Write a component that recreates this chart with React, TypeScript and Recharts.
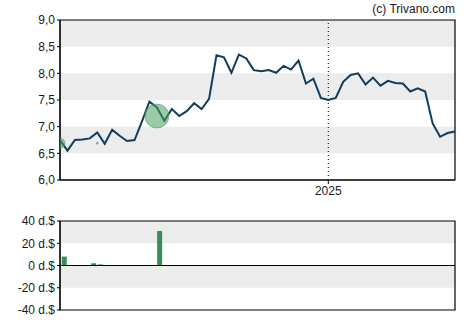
import { ComposedChart, Line, Scatter, Bar, XAxis, YAxis, ReferenceArea, ReferenceLine } from 'recharts';

// weekly closing price (index = week)
const prices = [
  6.75, 6.55, 6.75, 6.76, 6.78, 6.89, 6.68, 6.94, 6.83, 6.73,
  6.75, 7.1, 7.47, 7.36, 7.11, 7.33, 7.2, 7.29, 7.44, 7.33,
  7.52, 8.34, 8.3, 8.01, 8.35, 8.28, 8.06, 8.04, 8.06, 8.01,
  8.14, 8.07, 8.24, 7.81, 7.9, 7.54, 7.5, 7.54, 7.84, 7.97,
  8.0, 7.79, 7.92, 7.77, 7.86, 7.82, 7.81, 7.66, 7.72, 7.66,
  7.06, 6.81, 6.88, 6.91,
];

// insider trades: week position, price level, bubble radius
const tradeWeeks = [0, 5, 13];
const tradePrices = [6.69, 6.69, 7.2];
const tradeSizes = [5, 1, 12];

// trade volume bars (d.$)
const volumeWeeks = [0.55, 4.5, 5.4, 13.35];
const volumeValues = [8, 2, 1, 31];

const yearTick = 36;
const priceTicks = [6, 6.5, 7, 7.5, 8, 8.5, 9];
const volumeTicks = [-40, -20, 0, 20, 40];

const priceData = prices.map((p, i) => ({ x: i, price: p }));
const tradeData = tradeWeeks.map((w, i) => ({ x: w, y: tradePrices[i], r: tradeSizes[i] }));
const volumeData = volumeWeeks.map((w, i) => ({ x: w, vol: volumeValues[i] }));

const font = '"Liberation Sans", Arial, sans-serif';
const tickStyle = { fontSize: 12, fill: '#1a1a1a', fontFamily: font };
const band = '#ececec';

// plot box of the price chart, used to clip the bubbles
const plot = { x: 60, y: 20, w: 395, h: 160 };

const Bubble = (props: any) => {
  const { cx, cy, payload, index } = props;
  const id = `bubble-clip-${index}`;
  return (
    <g>
      <defs>
        <clipPath id={id}>
          <rect x={plot.x} y={plot.y} width={plot.w} height={plot.h} />
        </clipPath>
      </defs>
      <circle
        clipPath={`url(#${id})`}
        cx={cx}
        cy={cy}
        r={payload.r}
        fill="#4a9e63"
        fillOpacity={0.55}
        stroke="#4a9e63"
        strokeOpacity={0.6}
      />
    </g>
  );
};

export default function App() {
  return (
    <div style={{ position: 'absolute', left: 0, top: 0, width: 470, height: 325, background: '#fff', fontFamily: font }}>
      <div style={{ position: 'absolute', right: 15, top: 2, fontSize: 12, color: '#1a1a1a' }}>(c) Trivano.com</div>
      <div style={{ position: 'absolute', left: 0, top: 0 }}>
        <ComposedChart width={470} height={200} margin={{ top: 20, right: 15, bottom: 0, left: 0 }}>
          <XAxis
            dataKey="x"
            type="number"
            domain={[0, prices.length - 1]}
            ticks={[yearTick]}
            tickFormatter={() => '2025'}
            height={20}
            stroke="#000"
            tickSize={4}
            tick={tickStyle}
          />
          <YAxis
            type="number"
            domain={[6, 9]}
            ticks={priceTicks}
            tickFormatter={(v: number) => v.toFixed(1).replace('.', ',')}
            width={60}
            stroke="#000"
            tickSize={3}
            tick={tickStyle}
          />
          <ReferenceArea x1={0} x2={prices.length - 1} y1={8.5} y2={9} fill={band} fillOpacity={1} stroke="none" />
          <ReferenceArea x1={0} x2={prices.length - 1} y1={7.5} y2={8} fill={band} fillOpacity={1} stroke="none" />
          <ReferenceArea x1={0} x2={prices.length - 1} y1={6.5} y2={7} fill={band} fillOpacity={1} stroke="none" />
          <ReferenceLine x={yearTick} stroke="#000" strokeDasharray="1 3" />
          <ReferenceArea x1={0} x2={prices.length - 1} y1={6} y2={9} fill="none" stroke="#000" strokeWidth={1.2} />
          <Scatter data={tradeData} dataKey="y" shape={<Bubble />} isAnimationActive={false} />
          <Line
            data={priceData}
            dataKey="price"
            type="linear"
            stroke="#123c5b"
            strokeWidth={2}
            dot={false}
            isAnimationActive={false}
          />
        </ComposedChart>
      </div>
      <div style={{ position: 'absolute', left: 0, top: 200 }}>
        <ComposedChart width={470} height={125} data={volumeData} margin={{ top: 21, right: 15, bottom: 15, left: 0 }}>
          <XAxis dataKey="x" type="number" domain={[0, prices.length - 1]} hide />
          <YAxis
            type="number"
            domain={[-40, 40]}
            ticks={volumeTicks}
            tickFormatter={(v: number) => `${v} d.$`}
            width={60}
            stroke="#000"
            tickSize={3}
            tick={tickStyle}
          />
          <ReferenceArea x1={0} x2={prices.length - 1} y1={20} y2={40} fill={band} fillOpacity={1} stroke="none" />
          <ReferenceArea x1={0} x2={prices.length - 1} y1={-20} y2={0} fill={band} fillOpacity={1} stroke="none" />
          <ReferenceLine y={0} stroke="#000" strokeWidth={1.2} />
          <ReferenceArea x1={0} x2={prices.length - 1} y1={-40} y2={40} fill="none" stroke="#000" strokeWidth={1.2} />
          <Bar dataKey="vol" fill="#378f57" barSize={5} isAnimationActive={false} />
        </ComposedChart>
      </div>
    </div>
  );
}
